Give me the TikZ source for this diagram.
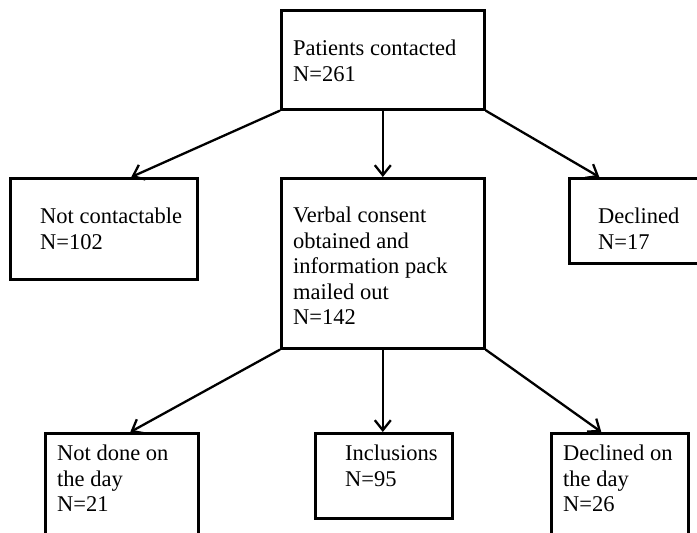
\documentclass[tikz,border=0pt]{standalone}
\usepackage{fontspec}
\setmainfont{Liberation Serif}
\usetikzlibrary{arrows.meta}
\tikzset{
  flowbox/.style={draw, line width=2.6pt, inner sep=0pt, anchor=north west},
  boxtext/.style={anchor=north west, inner sep=0pt, align=left,
    font=\fontsize{22.5}{25.5}\selectfont},
  link/.style={-{Straight Barb[length=10pt,width=16pt]}, line width=2.3pt}
}
\begin{document}
\begin{tikzpicture}[x=1pt, y=-1pt]
  \useasboundingbox (0,0) rectangle (697,533);
  % boxes
  \node[flowbox, minimum width=203pt, minimum height=99pt] (contacted) at (280,9) {};
  \node[flowbox, minimum width=187pt, minimum height=101pt] (notcont) at (9,177) {};
  \node[flowbox, minimum width=203pt, minimum height=170pt] (verbal) at (280,177) {};
  \node[flowbox, minimum width=132pt, minimum height=85pt] (declined) at (568,177) {};
  \node[flowbox, minimum width=153pt, minimum height=120pt] (notdone) at (44,432) {};
  \node[flowbox, minimum width=137pt, minimum height=85pt] (incl) at (314,432) {};
  \node[flowbox, minimum width=137pt, minimum height=120pt] (declday) at (550,432) {};
  % texts
  \node[boxtext] (contacted-txt) at (293,39.7) {Patients contacted\\N=261};
  \node[boxtext] (notcont-txt) at (40,207.7) {Not contactable\\N=102};
  \node[boxtext] (verbal-txt) at (293,206.7) {Verbal consent\\obtained and\\information pack\\mailed out\\N=142};
  \node[boxtext] (declined-txt) at (598,207.7) {Declined\\N=17};
  \node[boxtext] (notdone-txt) at (57,444.7) {Not done on\\the day\\N=21};
  \node[boxtext] (incl-txt) at (345,444.7) {Inclusions\\N=95};
  \node[boxtext] (declday-txt) at (563,444.7) {Declined on\\the day\\N=26};
  % arrows
  \draw[link] (contacted.south west) -- ([xshift=27.5pt]notcont.north);
  \draw[link] (contacted.south) -- (verbal.north);
  \draw[link] (contacted.south east) -- ([xshift=-36pt]declined.north);
  \draw[link] (verbal.south west) -- ([xshift=8.5pt]notdone.north);
  \draw[link] (verbal.south) -- (verbal.south |- incl.north);
  \draw[link] (verbal.south east) -- ([xshift=-18.5pt]declday.north);
\end{tikzpicture}
\end{document}
